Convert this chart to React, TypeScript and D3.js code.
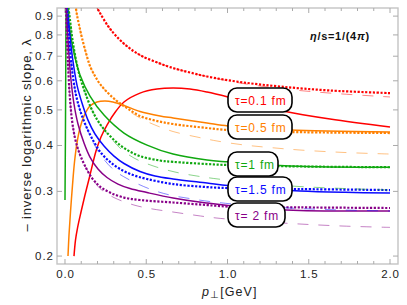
import React from 'react';
import * as d3 from 'd3';

type P = [number, number];

// ---- axes data ----
const xMajorTicks = [0, 0.5, 1.0, 1.5, 2.0];
const xTickLabels = ['0.0', '0.5', '1.0', '1.5', '2.0'];
const xMinorTicks = [0.1, 0.2, 0.3, 0.4, 0.6, 0.7, 0.8, 0.9, 1.1, 1.2, 1.3, 1.4, 1.6, 1.7, 1.8, 1.9];
const yTicks = [0.2, 0.3, 0.4, 0.5, 0.6, 0.7, 0.8, 0.9];
const yTickLabels = ['0.2', '0.3', '0.4', '0.5', '0.6', '0.7', '0.8', '0.9'];

const tauLabels = ['τ=0.1 fm', 'τ=0.5 fm', 'τ=1 fm', 'τ=1.5 fm', 'τ= 2 fm'];
const colors = ['#ff0000', '#ff8000', '#10a810', '#0a0aff', '#880088'];

// ---- series (p_perp [GeV], lambda) ----
const redSolid: P[] = [[0.0554, 0.2], [0.0646, 0.2211], [0.0769, 0.2384], [0.0985, 0.2636], [0.123, 0.2932], [0.151, 0.3283], [0.191, 0.3864], [0.2215, 0.4218], [0.2585, 0.4548], [0.314, 0.4965], [0.363, 0.5254], [0.4615, 0.5555], [0.566, 0.5696], [0.665, 0.5732], [0.769, 0.5696], [0.874, 0.559], [1.003, 0.5422], [1.169, 0.5188], [1.342, 0.4965], [1.631, 0.472], [2.0, 0.4491]];
const redDotted: P[] = [[0.1908, 0.959], [0.2154, 0.9178], [0.2646, 0.846], [0.32, 0.7895], [0.3877, 0.7416], [0.4615, 0.705], [0.56, 0.675], [0.665, 0.65], [0.769, 0.632], [0.874, 0.6164], [1.077, 0.5955], [1.323, 0.5789], [1.631, 0.5646], [2.0, 0.5555]];
const redDashed: P[] = [[0.1908, 0.959], [0.2154, 0.9178], [0.2646, 0.846], [0.32, 0.7895], [0.3877, 0.7416], [0.4615, 0.705], [0.56, 0.675], [0.665, 0.65], [0.769, 0.632], [0.874, 0.6164], [1.077, 0.5918], [1.323, 0.5717], [1.631, 0.5555], [2.0, 0.5422]];

const orangeSolid: P[] = [[0.0185, 0.2], [0.0246, 0.2282], [0.0338, 0.2636], [0.0462, 0.3121], [0.0585, 0.3606], [0.0738, 0.4063], [0.0923, 0.4463], [0.117, 0.4812], [0.1538, 0.5123], [0.197, 0.5254], [0.246, 0.5286], [0.295, 0.5254], [0.363, 0.514], [0.4615, 0.4949], [0.585, 0.4812], [0.665, 0.4752], [0.874, 0.4604], [1.003, 0.4519], [1.2, 0.4449], [1.385, 0.4407], [2.0, 0.4353]];
const orangeDotted: P[] = [[0.0646, 0.965], [0.0738, 0.906], [0.0892, 0.8406], [0.1046, 0.7847], [0.1292, 0.7142], [0.1538, 0.6583], [0.1846, 0.6184], [0.2154, 0.5881], [0.2646, 0.5555], [0.32, 0.5286], [0.3815, 0.5059], [0.4615, 0.4812], [0.5538, 0.4678], [0.665, 0.4576], [0.874, 0.4463], [1.003, 0.4407], [1.385, 0.4353], [2.0, 0.4325]];
const orangeDashed: P[] = [[0.0646, 0.965], [0.0738, 0.906], [0.0892, 0.8406], [0.1046, 0.7847], [0.1292, 0.7142], [0.1538, 0.6583], [0.1846, 0.6184], [0.2154, 0.5881], [0.2646, 0.5555], [0.32, 0.527], [0.3815, 0.5011], [0.4615, 0.4752], [0.5538, 0.4548], [0.665, 0.4366], [0.8123, 0.4218], [0.9354, 0.4114], [1.1077, 0.401], [1.2615, 0.3949], [1.446, 0.3888], [1.723, 0.3828], [2.0, 0.3791]];

const greenSolid: P[] = [[0, 0.2842], [0.0025, 0.4139], [0.005, 0.6836], [0.008, 0.9957], [0.0123, 0.906], [0.0308, 0.8147], [0.0554, 0.7142], [0.0923, 0.622], [0.1538, 0.5454], [0.24, 0.484], [0.363, 0.4325], [0.505, 0.401], [0.665, 0.379], [0.874, 0.365], [1.003, 0.361], [1.385, 0.352], [2.0, 0.349]];
const greenDotted: P[] = [[0.0185, 0.971], [0.0215, 0.947], [0.0308, 0.878], [0.0462, 0.775], [0.0677, 0.6836], [0.0923, 0.6144], [0.123, 0.559], [0.1662, 0.4996], [0.2154, 0.4577], [0.277, 0.4244], [0.363, 0.3937], [0.4615, 0.3743], [0.585, 0.364], [0.665, 0.361], [0.874, 0.3561], [1.003, 0.3539], [1.385, 0.351], [2.0, 0.349]];
const greenDashed: P[] = [[0.0185, 0.971], [0.0215, 0.947], [0.0308, 0.878], [0.0462, 0.775], [0.0677, 0.6836], [0.0923, 0.6144], [0.123, 0.559], [0.1662, 0.4996], [0.2154, 0.4577], [0.277, 0.4218], [0.3385, 0.3937], [0.4246, 0.3698], [0.5415, 0.352], [0.677, 0.3387], [0.8123, 0.3303], [0.9415, 0.3242], [1.2, 0.3151], [1.446, 0.3092], [1.723, 0.3054], [2.0, 0.3025]];

const blueSolid: P[] = [[0.016, 1.0], [0.0185, 0.947], [0.0277, 0.825], [0.04, 0.728], [0.0554, 0.65], [0.0738, 0.584], [0.1046, 0.522], [0.1415, 0.469], [0.1846, 0.4299], [0.24, 0.3987], [0.3015, 0.3743], [0.363, 0.3573], [0.4615, 0.3398], [0.5538, 0.3303], [0.665, 0.3242], [0.874, 0.3161], [1.003, 0.3112], [1.2, 0.3054], [1.446, 0.3007], [1.723, 0.2982], [2.0, 0.2969]];
const blueDotted: P[] = [[0.0105, 1.0], [0.0123, 0.947], [0.0215, 0.825], [0.0338, 0.705], [0.0492, 0.6144], [0.0677, 0.549], [0.0923, 0.4996], [0.1292, 0.4519], [0.1785, 0.4088], [0.2277, 0.3791], [0.277, 0.361], [0.3385, 0.3452], [0.4185, 0.3324], [0.5046, 0.3242], [0.665, 0.3141], [0.874, 0.3082], [1.003, 0.3063], [1.446, 0.3044], [2.0, 0.3025]];
const blueDashed: P[] = [[0.0105, 1.0], [0.0123, 0.947], [0.0215, 0.825], [0.0338, 0.705], [0.0492, 0.6144], [0.0677, 0.549], [0.0923, 0.4996], [0.1292, 0.4519], [0.1785, 0.4037], [0.2277, 0.3721], [0.3015, 0.3429], [0.3815, 0.3252], [0.523, 0.3044], [0.646, 0.2932], [0.769, 0.2868], [0.892, 0.2815], [1.138, 0.2745], [1.446, 0.2694], [1.723, 0.2669], [2.0, 0.2653]];

const purpleSolid: P[] = [[0.0077, 1.0], [0.0092, 0.947], [0.0154, 0.825], [0.0246, 0.705], [0.0369, 0.603], [0.0554, 0.5188], [0.08, 0.4577], [0.117, 0.4063], [0.1538, 0.3721], [0.203, 0.3452], [0.2585, 0.3273], [0.326, 0.3141], [0.4, 0.3054], [0.5046, 0.2978], [0.665, 0.2878], [0.874, 0.2789], [1.003, 0.2745], [1.2, 0.2694], [1.446, 0.2661], [1.723, 0.2653], [2.0, 0.2653]];
const purpleDotted: P[] = [[0.0055, 1.0], [0.006, 0.947], [0.0105, 0.825], [0.0175, 0.6836], [0.029, 0.549], [0.0431, 0.469], [0.0615, 0.4191], [0.0862, 0.3839], [0.123, 0.352], [0.1662, 0.3262], [0.2154, 0.3092], [0.277, 0.2978], [0.363, 0.2886], [0.4615, 0.2842], [0.665, 0.2798], [0.874, 0.2754], [1.003, 0.2728], [1.446, 0.2714], [2.0, 0.2703]];
const purpleDashed: P[] = [[0.0055, 1.0], [0.006, 0.947], [0.0105, 0.825], [0.0175, 0.6836], [0.029, 0.549], [0.0431, 0.469], [0.0615, 0.4191], [0.0862, 0.3839], [0.123, 0.352], [0.1662, 0.3262], [0.2154, 0.3054], [0.3015, 0.2886], [0.4246, 0.2754], [0.523, 0.2694], [0.665, 0.2636], [0.8123, 0.2579], [0.9354, 0.2538], [1.2, 0.2483], [1.446, 0.2445], [1.7108, 0.2414], [2.0, 0.2394]];

const solids = [redSolid, orangeSolid, greenSolid, blueSolid, purpleSolid];
const dotteds = [redDotted, orangeDotted, greenDotted, blueDotted, purpleDotted];
const dasheds = [redDashed, orangeDashed, greenDashed, blueDashed, purpleDashed];

// ---- layout ----
const W = 407, H = 305;
const L = 57, R = 398, T = 8, B = 264;
const legendBoxes = [
  { x: 228, y: 88, w: 64, h: 24 },
  { x: 228, y: 115, w: 64, h: 24 },
  { x: 228, y: 152, w: 50, h: 24 },
  { x: 228, y: 177, w: 64, h: 24 },
  { x: 228, y: 203, w: 57, h: 24 },
];

const FONT = "'Liberation Sans', Arial, Helvetica, sans-serif";

export default function App() {
  const x = d3.scaleLinear().domain([-0.0492, 2.0492]).range([L, R]);
  const y = d3.scaleLog().domain([0.1903, 0.947]).range([B, T]);
  const line = d3.line<P>().x(d => x(d[0])).y(d => y(d[1])).curve(d3.curveCatmullRom.alpha(0.5));

  return (
    <svg width={W} height={H} style={{ position: 'absolute', left: 0, top: 0, background: '#fff' }} fontFamily={FONT}>
      <defs>
        <clipPath id="plot">
          <rect x={L} y={T} width={R - L} height={B - T} />
        </clipPath>
      </defs>
      <rect x={0} y={0} width={W} height={H} fill="#fff" />
      {/* frame */}
      <rect x={L} y={T} width={R - L} height={B - T} fill="none" stroke="#c4c4c4" strokeWidth={1.4} />
      {/* x ticks */}
      {xMajorTicks.map((t, i) => (
        <g key={'xM' + i}>
          <line x1={x(t)} x2={x(t)} y1={B} y2={B - 5} stroke="#aaa" strokeWidth={1} />
          <line x1={x(t)} x2={x(t)} y1={T} y2={T + 5} stroke="#aaa" strokeWidth={1} />
          <text x={x(t) + 0.4} y={278} textAnchor="middle" fontSize={11.5} fill="#222" letterSpacing={0.8}>{xTickLabels[i]}</text>
        </g>
      ))}
      {xMinorTicks.map((t, i) => (
        <g key={'xm' + i}>
          <line x1={x(t)} x2={x(t)} y1={B} y2={B - 3} stroke="#aaa" strokeWidth={1} />
          <line x1={x(t)} x2={x(t)} y1={T} y2={T + 3} stroke="#aaa" strokeWidth={1} />
        </g>
      ))}
      {yTicks.map((t, i) => (
        <g key={'y' + i}>
          <line x1={L} x2={L + 5} y1={y(t)} y2={y(t)} stroke="#aaa" strokeWidth={1} />
          <line x1={R} x2={R - 5} y1={y(t)} y2={y(t)} stroke="#aaa" strokeWidth={1} />
          <text x={54} y={y(t) + 4} textAnchor="end" fontSize={11.5} fill="#222" letterSpacing={1}>{yTickLabels[i]}</text>
        </g>
      ))}

      <g clipPath="url(#plot)" fill="none">
        {solids.map((s, i) => (
          <path key={'s' + i} d={line(s) || ''} stroke={colors[i]} strokeWidth={1.5} />
        ))}
        {dotteds.map((s, i) => (
          <path key={'d' + i} d={line(s) || ''} stroke={colors[i]} strokeWidth={2.2} strokeDasharray="2.2,1.6" />
        ))}
        {dasheds.map((s, i) => (
          <path key={'h' + i} d={line(s) || ''} stroke={colors[i]} strokeOpacity={0.55} strokeWidth={0.9} strokeDasharray="11,10" />
        ))}
      </g>

      {/* legend boxes */}
      {legendBoxes.map((b, i) => (
        <g key={'lg' + i}>
          <rect x={b.x} y={b.y} width={b.w} height={b.h} rx={9} ry={9} fill="#fff" stroke="#000" strokeWidth={1.6} />
          <text x={b.x + 7} y={b.y + b.h / 2 + 4.5} fontSize={12} fill={colors[i]} letterSpacing={0.8}>{tauLabels[i]}</text>
        </g>
      ))}

      {/* annotation */}
      <text x={310} y={40} fontSize={11} fontWeight="bold" fill="#111" letterSpacing={0.7}>
        <tspan fontStyle="italic">η</tspan>
        <tspan>/s=1/(4</tspan>
        <tspan fontStyle="italic">π</tspan>
        <tspan>)</tspan>
      </text>

      {/* axis labels */}
      <text x={202} y={296} fontSize={12.5} fill="#222" letterSpacing={1.1}>
        <tspan fontStyle="italic">p</tspan>
        <tspan fontSize={10} dy={2}>⊥</tspan>
        <tspan dy={-2}>[GeV]</tspan>
      </text>
      <text transform={`translate(31,135) rotate(-90)`} textAnchor="middle" fontSize={13} fill="#222" letterSpacing={0.85}>
        – inverse logarithmic slope, λ
      </text>
    </svg>
  );
}
